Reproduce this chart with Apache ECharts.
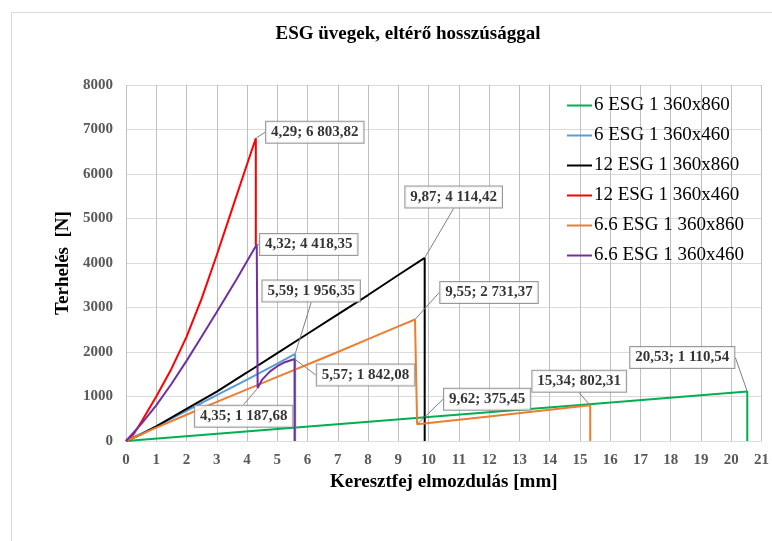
<!DOCTYPE html>
<html>
<head>
<meta charset="utf-8">
<script src="https://cdn.jsdelivr.net/npm/echarts@6/dist/echarts.min.js"></script>
<style>
  html, body { margin: 0; padding: 0; background: #fff; }
  #chart { width: 772px; height: 541px; }
</style>
</head>
<body>
<div id="chart"></div>
<script>
// Terhelés–elmozdulás görbék: [elmozdulás mm, terhelés N]
const seriesNames = [
  '6 ESG 1 360x860',
  '6 ESG 1 360x460',
  '12 ESG 1 360x860',
  '12 ESG 1 360x460',
  '6.6 ESG 1 360x860',
  '6.6 ESG 1 360x460'
];
const seriesColors = ['#00b050', '#5b9bd5', '#000000', '#ff0000', '#ed7d31', '#7030a0'];

const esg6_860 = [[0, 0], [5, 270], [10, 540], [15, 810], [20.53, 1110.54], [20.53, 0]];
const esg6_460 = [[0, 0], [1, 330], [2, 680], [3, 1030], [4, 1380], [5, 1740], [5.59, 1956.35], [5.59, 0]];
const esg12_860 = [[0, 0], [0.5, 150], [1, 330], [2, 720], [3, 1110], [4, 1540], [5, 1975], [6, 2410],
  [7, 2845], [8, 3280], [9, 3730], [9.87, 4114.42], [9.87, 0]];
const esg12_460 = [[0, 0], [0.25, 150], [0.5, 420], [1, 1000], [1.5, 1620], [2, 2340], [2.5, 3200],
  [3, 4180], [3.5, 5200], [4, 6220], [4.29, 6803.82], [4.29, 4400]];
const esg66_860 = [[0, 0], [1, 300], [2, 590], [3, 880], [4, 1160], [5, 1440], [6, 1720], [7, 2000],
  [8, 2290], [9, 2575], [9.55, 2731.37], [9.62, 375.45], [12, 553], [15.34, 802.31], [15.34, 0]];
const esg66_460 = [[0, 0], [0.5, 380], [1, 800], [1.5, 1280], [2, 1800], [2.43, 2270], [3, 2900],
  [3.64, 3620], [4.32, 4418.35], [4.35, 1187.68], [4.5, 1380], [4.75, 1560], [5, 1680], [5.25, 1770],
  [5.57, 1842.08], [5.57, 0]];

const seriesData = [esg6_860, esg6_460, esg12_860, esg12_460, esg66_860, esg66_460];

// Kiemelt pontok: [görbe sorszáma, pont sorszáma]
const calloutPoints = [
  [3, 10], [5, 8], [1, 6], [5, 14], [5, 9],
  [2, 11], [4, 10], [4, 11], [4, 13], [0, 4]
];
// Címkedobozok eltolása a ponthoz képest (px)
const calloutOffsets = [
  [59, -6], [52, 0], [16, -63], [71, 16], [-14, 28],
  [29, -61], [74, -27], [70, -25], [-11, -24], [-65, -34]
];

const xAxisMin = 0, xAxisMax = 21, xAxisStep = 1;
const yAxisMin = 0, yAxisMax = 8000, yAxisStep = 1000;

const serif = "'Liberation Serif', 'Times New Roman', serif";

function huNumber(v) {
  const parts = v.toFixed(2).split('.');
  const intPart = parts[0].replace(/\B(?=(\d{3})+(?!\d))/g, ' ');
  return intPart + ',' + parts[1];
}

const calloutData = calloutPoints.map(([s, i]) => seriesData[s][i]);

const lineSeries = seriesNames.map((name, k) => ({
  name: name,
  type: 'line',
  data: seriesData[k],
  showSymbol: false,
  symbol: 'none',
  smooth: false,
  lineStyle: { color: seriesColors[k], width: 2 },
  itemStyle: { color: seriesColors[k] },
  z: 2 + k
}));

const chart = echarts.init(document.getElementById('chart'));
chart.setOption({
  animation: false,
  backgroundColor: '#fff',
  graphic: [{
    type: 'rect',
    shape: { x: 11.5, y: 12.5, width: 800, height: 600 },
    style: { fill: 'none', stroke: '#d9d9d9', lineWidth: 1 },
    silent: true,
    z: -10
  }],
  title: {
    text: 'ESG üvegek, eltérő hosszúsággal',
    left: 403,
    top: 20,
    textAlign: 'center',
    textStyle: { fontFamily: serif, fontWeight: 'bold', fontSize: 19, color: '#000' }
  },
  legend: {
    data: seriesNames,
    orient: 'vertical',
    left: 562,
    top: 91,
    icon: 'rect',
    itemWidth: 25,
    itemHeight: 2,
    itemGap: 11,
    textStyle: { fontFamily: serif, fontSize: 19, color: '#000', padding: [0, 0, 0, -3] }
  },
  grid: { left: 126, right: 8, top: 85, bottom: 100, containLabel: false },
  xAxis: {
    type: 'value',
    min: xAxisMin, max: xAxisMax, interval: xAxisStep,
    name: 'Keresztfej elmozdulás [mm]',
    nameLocation: 'middle',
    nameGap: 31,
    nameTextStyle: { fontFamily: serif, fontWeight: 'bold', fontSize: 19, color: '#000' },
    axisLine: { show: false },
    axisTick: { show: false },
    axisLabel: { margin: 12, fontFamily: serif, fontWeight: 'bold', fontSize: 15, color: '#595959' },
    splitLine: { show: true, lineStyle: { color: '#c0c0c0', width: 1 } }
  },
  yAxis: {
    type: 'value',
    min: yAxisMin, max: yAxisMax, interval: yAxisStep,
    name: 'Terhelés  [N]',
    nameLocation: 'middle',
    nameGap: 49,
    nameRotate: 90,
    nameTextStyle: { fontFamily: serif, fontWeight: 'bold', fontSize: 19, color: '#000' },
    axisLine: { show: false },
    axisTick: { show: false },
    axisLabel: {
      margin: 13, fontFamily: serif, fontWeight: 'bold', fontSize: 15, color: '#595959',
      formatter: (v) => String(v)
    },
    splitLine: { show: true, lineStyle: { color: '#dcdcdc', width: 1 } }
  },
  series: lineSeries.concat([{
    name: 'callouts',
    type: 'scatter',
    data: calloutData,
    symbolSize: 1,
    itemStyle: { color: 'rgba(0,0,0,0)' },
    z: 20,
    silent: true,
    label: {
      show: true,
      position: 'inside',
      formatter: (p) => huNumber(p.value[0]) + '; ' + huNumber(p.value[1]),
      fontFamily: serif,
      fontWeight: 'bold',
      fontSize: 15,
      color: '#000',
      backgroundColor: '#fff',
      borderColor: '#808080',
      borderWidth: 1,
      padding: [3, 5, 3, 5]
    },
    labelLine: {
      show: true,
      showAbove: true,
      lineStyle: { color: '#808080', width: 1 }
    },
    labelLayout: (params) => {
      const off = calloutOffsets[params.dataIndex];
      return { dx: off[0], dy: off[1] };
    }
  }])
});
</script>
</body>
</html>
